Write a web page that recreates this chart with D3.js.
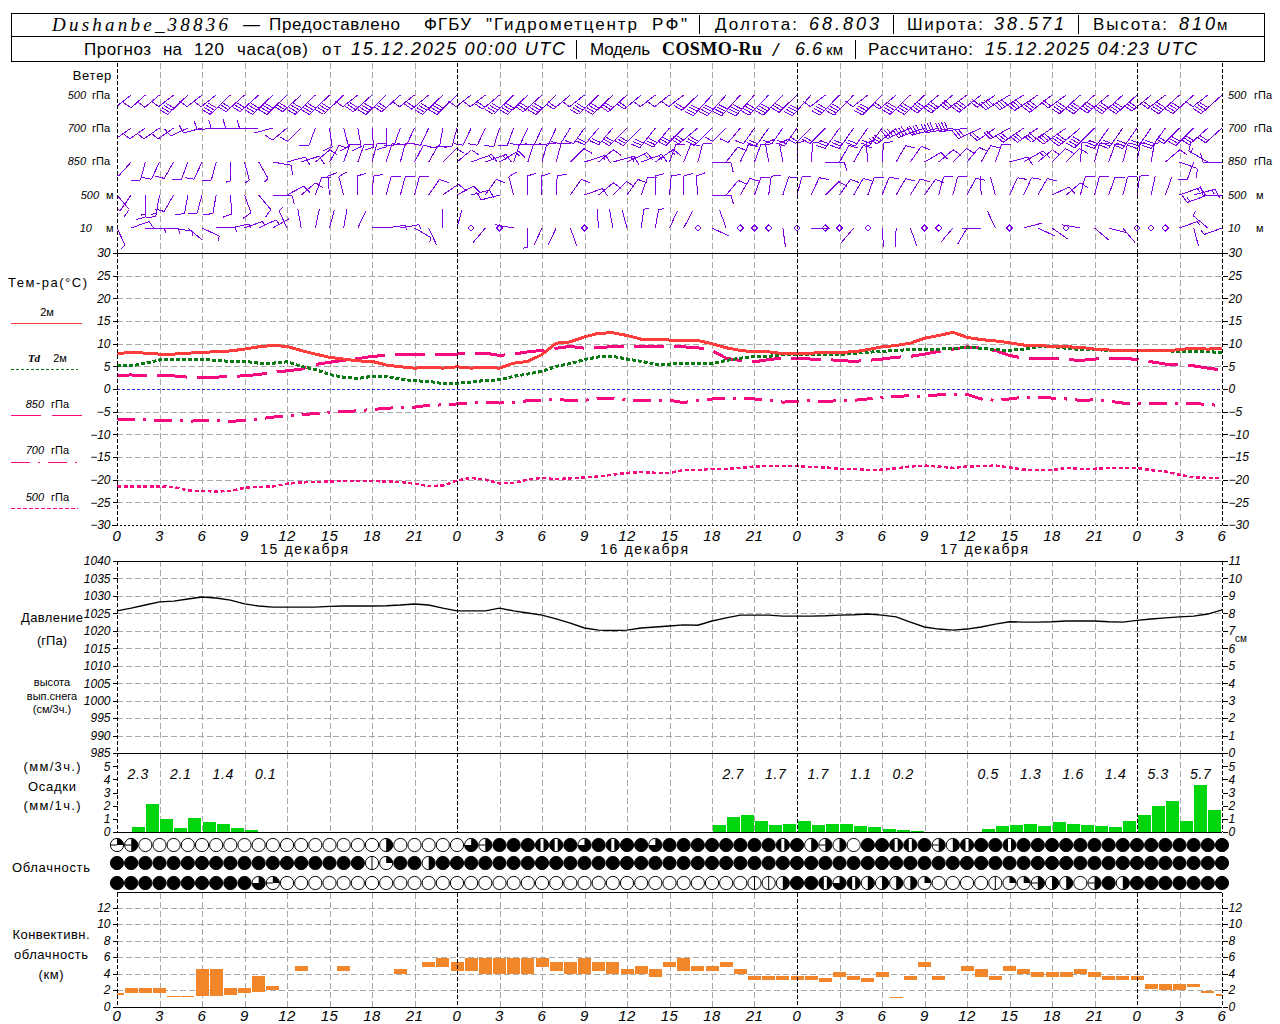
<!DOCTYPE html>
<html lang="ru">
<head>
  <meta charset="UTF-8" />
  <title>Dushanbe_38836</title>
  <script src="https://d3js.org/d3.v7.min.js"></script>
  <style>
    html, body { margin: 0; padding: 0; background: #fff; }
    svg { display: block; }
    text { font-family: "Liberation Sans", sans-serif; fill: #000; }
    .axis text { font-style: italic; font-size: 12px; }
    .axis line { stroke: #000; shape-rendering: crispEdges; }
    .axis path { display: none; }
  </style>
</head>
<body>
  <svg id="meteo" width="1280" height="1024"></svg>

  <script>
    const hours = d3.range(0, 79);
    const hourTicks = d3.range(0, 79, 3);
    const dayLines = [0, 24, 48, 72, 78];
    const dayLabels = [["15 декабря", 13.2], ["16 декабря", 37.2], ["17 декабря", 61.2]];

    // temperature, deg C, one value per hour
    const t2m = [7.8,8.1,7.9,7.7,7.7,7.9,8.1,8.2,8.4,8.8,
      9.3,9.6,9.4,8.5,7.7,7,6.6,6.2,6.1,5.3,
      4.9,4.6,4.8,4.6,4.9,4.6,4.8,4.6,5.7,6.1,
      7.6,10.1,10.4,11.5,12.3,12.4,11.8,11,11,10.8,
      10.7,10.7,10,9.1,8.5,8.2,8.2,7.8,7.9,7.9,
      8.1,8.1,8.2,8.7,9.3,9.6,10.1,11.2,11.8,12.5,
      11.4,10.9,10.6,10.2,9.7,9.6,9.4,9.3,9.2,8.8,
      8.6,8.5,8.5,8.4,8.4,8.7,9,8.8,9];
    const td2m = [5.1,5.1,5.7,6.4,6.5,6.6,6.6,6.3,6.1,6.1,
      5.7,5.7,6,5,4.3,3.2,2.6,2.3,2.8,2.8,
      2.2,1.8,1.7,1.2,1.25,1.5,1.9,2,2.8,3.3,
      3.9,5,5.6,6.5,7.1,7.2,6.6,6.1,5.5,5.5,
      5.7,5.7,5.6,6.3,6.8,7.2,7.2,7.6,7.7,7.7,
      7.6,7.6,7.9,8.1,8.3,8.5,8.7,8.8,8.8,8.9,
      9.2,9,8.7,8.5,8.8,9.3,9.3,9,8.7,8.7,
      8.5,8.5,8.5,8.5,8.5,8.2,8.2,8.2,8.1];
    const t850 = [3,3.1,2.9,2.9,2.9,2.6,2.6,2.6,2.8,2.9,
      3.2,3.7,4,4.4,5.4,5.9,6.3,6.7,7.2,7.4,
      7.6,7.6,7.6,7.6,7.7,7.9,7.9,7.4,7.7,8.2,
      8.5,9,9.4,9,9.2,9.3,9.3,9.3,9.3,9.3,
      9.3,9.1,8.5,6.8,6.3,6,6.5,6.8,6.8,6.6,
      6.5,6.3,6.1,6.3,6.6,7,7.2,7.7,8.3,8.8,
      9.3,9,8.5,7.4,6.8,6.8,6.8,6.5,6.3,6.6,
      6.8,6.8,6.5,6,5.5,5.4,5.1,4.6,4.2];
    const t700 = [-6.6,-6.8,-6.8,-6.9,-6.9,-7.1,-7,-6.9,-7.1,-7,
      -6.6,-6.2,-5.9,-5.7,-5.4,-5.1,-5,-4.8,-4.5,-4.3,
      -4,-4,-3.6,-3.5,-3.3,-3.1,-2.9,-3.1,-2.9,-2.6,
      -2.6,-2.2,-2.6,-2.5,-2.1,-2,-2.4,-2.5,-2.7,-2.5,
      -3,-2.5,-2.2,-2,-2,-2.2,-2.5,-2.9,-2.7,-2.6,
      -2.7,-2.6,-2.5,-2.2,-1.8,-1.6,-1.5,-1.6,-1.3,-1.1,
      -1.2,-2.2,-2.5,-2.2,-1.8,-1.8,-2,-2.2,-2.5,-2.4,
      -2.7,-3.1,-3.1,-3.1,-3.2,-3.2,-3.2,-3.4,-3.7];
    const t500 = [-21.5,-21.5,-21.5,-21.5,-21.6,-22.4,-22.5,-22.6,-22.5,-21.8,
      -21.6,-21.5,-20.9,-20.6,-20.5,-20.4,-20.3,-20.3,-20.3,-20.4,
      -20.5,-20.9,-21.4,-21.3,-20.2,-19.6,-20,-20.8,-20.7,-20,
      -19.6,-19.9,-19.7,-19.5,-19.3,-18.9,-18.5,-18.3,-18.5,-18.5,
      -17.9,-17.9,-17.6,-17.6,-17.4,-17.1,-17,-17,-17,-17.2,
      -17.3,-17.6,-17.6,-17.9,-17.8,-17.5,-17.1,-16.9,-17.1,-17.4,
      -17.1,-17,-16.9,-17.3,-17.8,-17.9,-17.9,-17.4,-17.6,-17.6,
      -17.4,-17.4,-17.4,-17.9,-18.2,-18.9,-19.5,-19.6,-19.6];

    // sea level pressure, hPa
    const pressure = [1025.7,1026.5,1027.4,1028.3,1028.5,1029.1,1029.7,1029.4,1028.8,1027.7,
      1027.1,1026.8,1026.8,1026.8,1026.8,1027,1027.1,1027.1,1027.1,1027.2,
      1027.4,1027.7,1027.4,1026.5,1025.7,1025.7,1025.7,1026.5,1025.7,1025.1,
      1024.5,1023.4,1022.2,1020.8,1020.2,1020.1,1020.2,1020.8,1021.1,1021.4,
      1021.7,1021.6,1022.8,1023.7,1024.5,1024.5,1024.5,1024.2,1024.2,1024.2,
      1024.3,1024.5,1024.6,1024.8,1024.5,1024,1022.5,1021.1,1020.5,1020.2,
      1020.5,1021.1,1021.9,1022.6,1022.5,1022.5,1022.6,1022.8,1022.8,1022.8,
      1022.6,1022.5,1023,1023.4,1023.7,1024,1024.2,1024.8,1026];

    // precipitation, mm per hour, one bar per hour interval
    const precip1h = [0,.4,2.1,1,.3,1.05,.75,.6,.3,.15,
      0,0,0,0,0,0,0,0,0,0,0,0,0,0,0,0,0,0,0,0,
      0,0,0,0,0,0,0,0,0,0,0,0,
      .55,1.15,1.3,.85,.55,.6,.85,.55,.6,.6,.45,.4,.25,.15,.1,0,0,0,0,
      .25,.45,.55,.6,.45,.75,.6,.55,.45,.4,.85,1.3,1.95,2.35,.85,3.55,1.65];
    const precip3hValues = ["2.3","2.1","1.4","0.1","2.7","1.7","1.7","1.1","0.2","0.5","1.3","1.6","1.4","5.3","5.7"];
    const precip3hHours = [1.5,4.5,7.5,10.5,43.5,46.5,49.5,52.5,55.5,61.5,64.5,67.5,70.5,73.5,76.5];

    // cloud symbols: 0 clear, 1 line, 2 quarter, 3 quarter+line, 4 half, 5 half+line, 6 three quarters, 7 stripe, 8 overcast
    const cloudHigh = [3,5,0,0,0,0,0,0,0,0,0,0,0,0,0,0,0,0,0,4,0,0,0,0,0,
      6,5,8,8,8,7,7,8,6,8,7,8,8,6,8,8,8,8,8,8,8,8,7,8,4,5,4,0,8,8,7,7,8,5,4,7,8,8,7,
      8,8,8,8,8,8,8,8,8,8,8,8,8,8,8];
    const cloudMid = [8,8,8,8,8,8,8,8,8,8,8,8,8,8,8,8,8,8,1,2,8,8,4,8,8,
      8,8,8,8,8,8,8,8,8,8,8,8,8,8,8,8,8,8,8,8,8,8,8,8,8,8,8,8,8,
      8,8,8,8,8,8,8,8,8,8,8,8,8,8,8,8,8,8,8,8,8,8,8,8,8];
    const cloudLow = [8,8,8,8,8,8,8,8,8,8,6,3,0,0,0,0,0,0,0,0,0,0,0,0,0,
      0,0,0,0,0,0,0,0,0,0,0,0,0,0,0,0,0,0,0,0,1,1,4,8,8,7,6,7,4,4,4,4,2,
      0,0,0,0,1,2,2,5,4,4,0,5,8,4,8,8,8,8,8,8,8];

    // convective cloud base and top, km
    const cuBase = [1.4,1.6,1.6,1.6,1.2,1.2,1.25,1.25,1.4,1.6,
      1.8,2,null,4.3,null,null,4.3,null,null,null,
      4,null,4.8,4.8,4.3,4.3,4,4,4,4,
      4.8,4.3,4,4,4.3,4,4,4,3.55,4.8,
      4.3,4.3,4.3,4.8,4,3.2,3.2,3.2,3.2,3.2,
      2.95,3.55,3.2,2.95,3.55,1.05,3.2,4.8,3.2,null,
      4.3,3.55,3.2,4.3,4,3.55,3.55,3.55,4,3.55,
      3.2,3.2,3.2,2.1,2,2,2.35,1.6,1.25];
    const cuTop = [1.6,2.2,2.2,2.2,1.3,1.3,4.55,4.55,2.2,2.2,
      3.7,2.45,null,4.9,null,null,4.9,null,null,null,
      4.55,null,5.4,5.85,5.4,5.85,5.85,5.85,5.85,5.85,
      5.85,5.4,5.4,5.85,5.4,5.4,4.55,4.9,4.55,5.4,
      5.85,4.9,4.9,5.4,4.55,3.7,3.7,3.7,3.7,3.7,
      3.45,4.15,3.7,3.45,4.15,1.15,3.7,5.4,3.7,null,
      4.9,4.55,3.7,4.9,4.55,4.15,4.15,4.15,4.55,4.15,
      3.7,3.7,3.7,2.7,2.7,2.7,2.7,1.85,1.5];

    // wind: direction the staff points to (deg), speed (m/s), 0 = calm, 1 = staff only
    const dir500hPa = [232,232,228,230,232,226,232,232,226,228,
      228,226,226,228,226,226,226,232,228,226,
      228,232,230,226,226,232,232,230,226,226,
      228,226,230,232,226,226,228,230,232,232,
      232,226,222,222,222,222,224,224,226,222,
      232,224,224,232,224,230,226,226,230,230,
      234,232,236,238,238,236,232,234,228,228,
      230,228,228,230,232,228,228,232,228];
    const spd500hPa = [5,5,5,5,5,20,5,5,20,15,
      15,20,20,15,20,20,20,5,15,20,
      15,5,10,20,20,5,5,10,20,20,
      15,20,10,5,20,20,15,10,5,5,
      5,10,20,20,20,20,20,20,15,20,
      5,20,20,5,20,10,20,20,20,20,
      15,20,10,20,20,20,20,10,20,20,
      20,20,20,15,10,20,20,5,20];
    const dir700hPa = [235,235,235,235,235,245,255,265,268,270,
      268,255,230,225,200,172,165,170,175,180,
      200,205,205,190,195,205,205,197,200,205,
      205,205,212,215,220,220,225,225,218,220,
      225,230,225,225,220,215,215,215,215,225,
      225,215,215,215,215,230,245,250,255,260,
      262,245,235,240,235,235,235,235,230,225,
      215,215,215,215,215,225,225,228,228];
    const spd700hPa = [5,5,5,5,5,5,5,5,5,5,
      5,1,5,5,5,5,5,5,5,5,
      5,5,5,5,5,5,5,5,5,5,
      5,5,5,5,10,10,15,15,15,15,
      15,15,15,5,5,5,10,5,10,10,
      10,15,15,10,10,15,15,20,20,20,
      20,15,10,10,15,15,15,20,20,20,
      15,15,15,15,15,10,15,15,10];
    const dir850hPa = [215,222,195,205,210,200,205,195,180,165,
      150,100,75,72,50,30,20,20,15,18,
      15,28,30,45,50,70,70,60,18,18,
      15,15,45,72,50,75,65,70,55,20,
      22,15,92,38,25,20,350,350,0,5,
      90,30,30,355,5,30,35,60,50,45,
      40,30,20,75,60,50,45,45,5,15,
      20,15,10,10,50,110,200,300,270];
    const spd850hPa = [5,2.5,5,5,5,5,5,5,2.5,2.5,
      2.5,5,5,5,5,5,5,5,5,5,
      5,5,5,5,5,7.5,7.5,7.5,5,5,
      5,5,5,7.5,5,7.5,7.5,7.5,7.5,5,
      5,5,5,5,5,5,5,5,5,5,
      5,5,5,5,5,5,5,5,5,5,
      5,5,5,5,7.5,5,5,5,5,5,
      2.5,2.5,2.5,2.5,5,5,5,7.5,5];
    const dir500m = [140,215,180,190,210,190,195,190,175,160,
      140,90,62,50,20,355,345,358,5,15,
      15,15,35,55,62,75,35,255,345,358,
      358,3,35,70,50,45,35,20,0,5,
      0,355,90,40,30,20,8,18,15,25,
      45,35,30,20,22,30,32,35,15,15,
      28,358,345,25,25,30,65,50,15,15,
      20,15,8,12,20,70,75,250,270];
    const spd500m = [5,5,7.5,7.5,5,5,5,5,5,5,
      5,5,5,5,5,5,5,5,5,5,
      5,5,5,5,5,5,5,5,5,5,
      5,5,5,5,5,5,5,5,5,5,
      5,5,5,5,5,5,5,5,5,5,
      5,5,5,5,5,5,5,5,5,5,
      5,1,1,5,5,5,5,5,5,5,
      5,5,5,1,1,7.5,7.5,7.5,5];
    const dir10m = [155,70,90,92,100,130,115,88,78,70,
      65,60,335,350,12,15,10,25,87,82,
      80,120,155,0,15,0,220,0,280,180,
      205,205,160,0,355,350,345,8,10,25,
      28,0,115,340,0,0,0,172,0,90,
      0,0,220,0,175,183,160,0,0,220,
      210,268,335,0,75,115,125,0,280,130,
      105,140,0,0,0,70,165,310,250];
    const spd10m = [2.5,5,2.5,2.5,2.5,1,2.5,2.5,2.5,2.5,
      2.5,1,2.5,1,1,1,1,1,1,2.5,
      2.5,2.5,1,1,1,0,1,0,1,2.5,
      1,1,1,0,1,1,1,2.5,2.5,1,
      1,0,1,1,0,0,0,1,0,1,
      0,0,1,0,1,1,1,0,0,1,
      1,1,1,0,1,1,1,0,1,1,
      1,1,0,0,0,2.5,1,2.5,2.5];

    const width = 1280, height = 1024;
    const svg = d3.select("#meteo").attr("width", width).attr("height", height);

    const x = d3.scaleLinear().domain([0, 78]).range([117, 1222]);
    const yWind = { "500hPa": 95, "700hPa": 128, "850hPa": 162, "500m": 195, "10m": 228 };
    const yTemp = d3.scaleLinear().domain([-30, 30]).range([525, 253]);
    const yPres = d3.scaleLinear().domain([985, 1040]).range([753, 561]);
    const ySnow = d3.scaleLinear().domain([0, 11]).range([753, 561]);
    const yRain = d3.scaleLinear().domain([0, 6]).range([832, 753]);
    const yConv = d3.scaleLinear().domain([0, 14]).range([1006.5, 891]);

    function label(px, py, str, opts = {}) {
      const t = svg.append("text")
        .attr("x", px)
        .attr("y", py)
        .attr("dominant-baseline", "central")
        .attr("text-anchor", opts.anchor || "start")
        .style("font-size", (opts.size || 12) + "px")
        .text(str);
      if (opts.italic) t.style("font-style", "italic");
      if (opts.bold) t.style("font-weight", "bold");
      if (opts.serif) t.style("font-family", "'Liberation Serif', serif");
      if (opts.spacing) t.style("letter-spacing", opts.spacing + "px");
      if (opts.to) t.attr("textLength", opts.to - px).attr("lengthAdjust", "spacing");
      return t;
    }

    function hline(py, x1, x2, stroke, dash, w) {
      svg.append("line")
        .attr("x1", x1).attr("x2", x2).attr("y1", py).attr("y2", py)
        .attr("stroke", stroke)
        .attr("stroke-width", w || 1)
        .attr("stroke-dasharray", dash || null)
        .attr("shape-rendering", "crispEdges");
    }

    // header boxes
    svg.append("rect").attr("x", 11.5).attr("y", 13.5).attr("width", 1253).attr("height", 48)
      .attr("fill", "none").attr("stroke", "#000").attr("shape-rendering", "crispEdges");
    hline(36.5, 11, 1265, "#000");

    function sep(px, y1, y2) {
      svg.append("line").attr("x1", px).attr("x2", px).attr("y1", y1).attr("y2", y2)
        .attr("stroke", "#000").attr("shape-rendering", "crispEdges");
    }

    label(52, 24, "Dushanbe_38836", { size: 19, italic: true, serif: true, to: 228 });
    label(243, 24, "—", { size: 17, to: 256 });
    label(269, 24, "Предоставлено", { size: 17, to: 400 });
    label(424, 24, "ФГБУ", { size: 17, to: 471 });
    label(486, 24, "\"Гидрометцентр", { size: 17, to: 637 });
    label(652, 24, "РФ\"", { size: 17, to: 687 });
    sep(699.5, 15, 34);
    label(715, 24, "Долгота:", { size: 17, to: 797 });
    label(809, 24, "68.803", { size: 18, italic: true, to: 879 });
    sep(893.5, 15, 34);
    label(907, 24, "Широта:", { size: 17, to: 983 });
    label(994, 24, "38.571", { size: 18, italic: true, to: 1064 });
    sep(1078.5, 15, 34);
    label(1093, 24, "Высота:", { size: 17, to: 1167 });
    label(1179, 24, "810", { size: 18, italic: true, to: 1215 });
    label(1217, 24, "м", { size: 15, to: 1228 });

    label(84, 49, "Прогноз", { size: 17, to: 151 });
    label(163, 49, "на", { size: 17, to: 182 });
    label(194, 49, "120", { size: 17, to: 224 });
    label(237, 49, "часа(ов)", { size: 17, to: 308 });
    label(322, 49, "от", { size: 17, to: 341 });
    label(351, 49, "15.12.2025 00:00 UTC", { size: 18, italic: true, to: 565 });
    sep(576.5, 40, 59);
    label(590, 49, "Модель", { size: 17, to: 650 });
    label(662, 49, "COSMO-Ru", { size: 18, bold: true, serif: true, to: 762 });
    label(773, 49, "/", { size: 19, italic: true, to: 783 });
    label(795, 49, "6.6", { size: 18, italic: true, to: 822 });
    label(826, 49, "км", { size: 15, to: 843 });
    sep(855.5, 40, 59);
    label(868, 49, "Рассчитано:", { size: 17, to: 973 });
    label(985, 49, "15.12.2025 04:23 UTC", { size: 18, italic: true, to: 1197 });

    // grid
    const panels = [[63, 253], [253, 525], [561, 753], [753, 832], [893, 1007]];
    panels.forEach(([y1, y2]) => {
      svg.append("g").selectAll("line")
        .data(hourTicks.filter(h => !dayLines.includes(h)))
        .join("line")
        .attr("x1", d => Math.round(x(d)) + 0.5).attr("x2", d => Math.round(x(d)) + 0.5)
        .attr("y1", y1).attr("y2", y2)
        .attr("stroke", "#a8a8a8")
        .attr("stroke-dasharray", "6 3")
        .attr("shape-rendering", "crispEdges");
    });
    d3.range(-25, 30, 5).forEach(v => {
      if (v !== 0) hline(Math.round(yTemp(v)) + 0.5, 117, 1222, "#a8a8a8", "6 3");
    });
    d3.range(990, 1040, 5).forEach(v => hline(Math.round(yPres(v)) + 0.5, 117, 1222, "#a8a8a8", "6 3"));
    d3.range(2, 14, 2).forEach(v => hline(Math.round(yConv(v)) + 0.5, 117, 1222, "#a8a8a8", "6 3"));
    hline(389.5, 117, 1222, "#2030e0", "3 2");

    // convective cloud
    svg.append("g").selectAll("rect")
      .data(hours.filter(h => cuBase[h] !== null))
      .join("rect")
      .attr("x", d => Math.max(Math.round(x(d) - 6.5), 117))
      .attr("width", d => Math.min(Math.round(x(d) - 6.5) + 13, 1222) - Math.max(Math.round(x(d) - 6.5), 117))
      .attr("y", d => yConv(cuTop[d]))
      .attr("height", d => yConv(cuBase[d]) - yConv(cuTop[d]))
      .attr("fill", "#f2862b")
      .attr("shape-rendering", "crispEdges");

    // hourly precipitation
    svg.append("g").selectAll("rect")
      .data(precip1h.map((v, i) => [i, v]).filter(d => d[1] > 0))
      .join("rect")
      .attr("x", d => x(d[0]) + 0.5)
      .attr("width", 13)
      .attr("y", d => yRain(d[1]))
      .attr("height", d => yRain(0) - yRain(d[1]))
      .attr("fill", "#00d60e")
      .attr("shape-rendering", "crispEdges");

    precip3hValues.forEach((v, i) => {
      label(x(precip3hHours[i]), 774, v, { anchor: "middle", size: 14, italic: true, spacing: 0.6 });
    });

    // temperature lines
    const tempLine = d3.line().x((d, i) => x(i)).y(d => yTemp(d));
    [
      [t850, "#f50a80", "30 10", 3],
      [t700, "#f50a80", "18 8 3 8", 3],
      [t500, "#f50a80", "4 2.5", 2.5],
      [td2m, "#0a7a14", "4 2", 3],
      [t2m, "#ff3c3c", null, 3]
    ].forEach(([data, color, dash, w]) => {
      svg.append("path").attr("d", tempLine(data))
        .attr("fill", "none")
        .attr("stroke", color)
        .attr("stroke-width", w)
        .attr("stroke-dasharray", dash)
        .attr("shape-rendering", "crispEdges");
    });

    // pressure
    svg.append("path")
      .attr("d", d3.line().x((d, i) => x(i)).y(d => yPres(d))(pressure))
      .attr("fill", "none").attr("stroke", "#000").attr("stroke-width", 1.4);

    // wind barbs, staff grows with the number of barbs
    svg.append("clipPath").attr("id", "windClip")
      .append("rect").attr("x", 117).attr("y", 64).attr("width", 1105).attr("height", 189);
    const windG = svg.append("g").attr("clip-path", "url(#windClip)")
      .attr("stroke", "#8000e6").attr("fill", "none").attr("shape-rendering", "crispEdges");
    const staffBase = 19, fullBarb = 9.5, halfBarb = 5, barbStep = 3, barbTurn = 75;
    const polar = (deg, len) => [Math.sin(deg * Math.PI / 180) * len, -Math.cos(deg * Math.PI / 180) * len];

    function windRow(rowY, dirs, speeds) {
      hours.forEach(h => {
        const px = x(h);
        if (speeds[h] === 0) {
          windG.append("path")
            .attr("transform", `translate(${px},${rowY})`)
            .attr("d", d3.symbol(d3.symbolDiamond2, 24)());
          return;
        }
        const count = Math.floor(speeds[h] / 5) + (speeds[h] % 5 >= 2.5 ? 1 : 0);
        const staffLen = staffBase + barbStep * Math.max(count - 1, 0);
        const [dx, dy] = polar(dirs[h], staffLen);
        let d = `M${px},${rowY}L${px + dx},${rowY + dy}`;
        const [ux, uy] = polar(dirs[h], 1);
        let left = speeds[h], pos = staffLen;
        while (left >= 2.5) {
          const len = left >= 5 ? fullBarb : halfBarb;
          const [bx, by] = polar(dirs[h] + barbTurn, len);
          const sx = px + ux * pos, sy = rowY + uy * pos;
          d += `M${sx},${sy}L${sx + bx},${sy + by}`;
          left -= left >= 5 ? 5 : 2.5;
          pos -= barbStep;
        }
        windG.append("path").attr("d", d);
      });
    }
    windRow(yWind["500hPa"], dir500hPa, spd500hPa);
    windRow(yWind["700hPa"], dir700hPa, spd700hPa);
    windRow(yWind["850hPa"], dir850hPa, spd850hPa);
    windRow(yWind["500m"], dir500m, spd500m);
    windRow(yWind["10m"], dir10m, spd10m);

    // cloud symbols
    const arc = d3.arc().innerRadius(0).outerRadius(6.6);
    const cloudRows = [[cloudHigh, 845], [cloudMid, 863], [cloudLow, 883]];
    cloudRows.forEach(([row, cy]) => {
      row.forEach((code, h) => {
        const g = svg.append("g").attr("transform", `translate(${x(h)},${cy})`);
        g.append("circle").attr("r", 6.6)
          .attr("fill", code === 8 || code === 7 ? "#000" : "#fff")
          .attr("stroke", "#000");
        if (code === 2 || code === 3) {
          g.append("path").attr("d", arc({ startAngle: 0, endAngle: Math.PI / 2 }));
        }
        if (code === 4 || code === 5) {
          g.append("path").attr("d", arc({ startAngle: 0, endAngle: Math.PI }));
        }
        if (code === 6) {
          g.append("path").attr("d", arc({ startAngle: 0, endAngle: Math.PI * 1.5 }));
        }
        if (code === 1) {
          g.append("line").attr("y1", -6.6).attr("y2", 6.6).attr("stroke", "#000");
        }
        if (code === 3 || code === 5) {
          g.append("line").attr("x1", -6.6).attr("x2", 0).attr("stroke", "#000");
        }
        if (code === 7) {
          g.append("rect").attr("x", -1.5).attr("y", -6).attr("width", 3).attr("height", 12).attr("fill", "#fff");
        }
      });
    });

    // day lines and panel frames
    panels.forEach(([y1, y2]) => {
      svg.append("g").selectAll("line")
        .data(dayLines)
        .join("line")
        .attr("x1", d => Math.round(x(d)) + 0.5).attr("x2", d => Math.round(x(d)) + 0.5)
        .attr("y1", y1).attr("y2", y2)
        .attr("stroke", "#000")
        .attr("stroke-dasharray", "4 2")
        .attr("shape-rendering", "crispEdges");
    });
    hline(253.5, 117, 1222, "#000");
    hline(525.5, 112, 1222, "#000", "2 2");
    hline(561.5, 117, 1222, "#000");
    hline(753.5, 117, 1222, "#000");
    hline(832.5, 117, 1222, "#000");
    hline(892.5, 117, 1222, "#000");
    hline(1007.5, 117, 1222, "#000");

    // axes
    const plain = d3.format("d");
    function axisPair(scale, values) {
      svg.append("g").attr("class", "axis").attr("transform", "translate(117.5,0)")
        .call(d3.axisLeft(scale).tickValues(values).tickSize(5).tickPadding(2).tickFormat(plain));
      svg.append("g").attr("class", "axis").attr("transform", "translate(1222.5,0)")
        .call(d3.axisRight(scale).tickValues(values).tickSize(5).tickPadding(1).tickFormat(plain));
    }
    axisPair(yTemp, d3.range(-30, 31, 5));
    svg.append("g").attr("class", "axis").attr("transform", "translate(117.5,0)")
      .call(d3.axisLeft(yPres).tickValues(d3.range(985, 1041, 5)).tickSize(5).tickPadding(2).tickFormat(plain));
    svg.append("g").attr("class", "axis").attr("transform", "translate(1222.5,0)")
      .call(d3.axisRight(ySnow).tickValues(d3.range(0, 12)).tickSize(5).tickPadding(1).tickFormat(plain));
    axisPair(yRain, d3.range(0, 6));
    axisPair(yConv, d3.range(0, 13, 2));

    [535, 1015].forEach(py => {
      svg.append("g").selectAll("text")
        .data(hourTicks)
        .join("text")
        .attr("x", d => x(d))
        .attr("y", py)
        .attr("text-anchor", "middle")
        .attr("dominant-baseline", "central")
        .style("font-style", "italic")
        .style("font-size", "15px")
        .style("letter-spacing", "0.5px")
        .text(d => d % 24);
    });
    dayLabels.forEach(([name, h]) => {
      label(x(h) - 44, 549, name, { size: 14, to: x(h) + 44 });
    });

    // left captions
    label(112, 75, "Ветер", { anchor: "end", size: 13, spacing: 0.7 });
    [["500", "гПа", 95], ["700", "гПа", 128], ["850", "гПа", 161]].forEach(([a, b, py]) => {
      label(86, py, a, { anchor: "end", size: 11, italic: true });
      label(92, py, b, { size: 11 });
      label(1228, py, a, { size: 11, italic: true });
      label(1254, py, b, { size: 11 });
    });
    label(99, 195, "500", { anchor: "end", size: 11, italic: true });
    label(106, 195, "м", { size: 11 });
    label(92, 228, "10", { anchor: "end", size: 11, italic: true });
    label(106, 228, "м", { size: 11 });
    label(1228, 195, "500", { size: 11, italic: true });
    label(1256, 195, "м", { size: 11 });
    label(1228, 228, "10", { size: 11, italic: true });
    label(1256, 228, "м", { size: 11 });

    label(8, 282, "Тем-ра(°C)", { size: 13, to: 87 });
    label(47, 312, "2м", { anchor: "middle", size: 11 });
    hline(323.5, 11, 82, "#ff3c3c");
    label(34, 358, "Td", { anchor: "middle", size: 11, italic: true, bold: true, serif: true });
    label(60, 358, "2м", { anchor: "middle", size: 11 });
    hline(369.5, 11, 78, "#0a7a14", "3 2");
    [["850", 404], ["700", 450], ["500", 497]].forEach(([a, py]) => {
      label(44, py, a, { anchor: "end", size: 11, italic: true });
      label(51, py, "гПа", { size: 11 });
    });
    hline(415.5, 11, 41, "#f50a80");
    hline(415.5, 52, 82, "#f50a80");
    hline(462.5, 11, 78, "#f50a80", "19 8 2 8 19 8 2 200");
    hline(508.5, 11, 78, "#f50a80", "4 2");

    [["Давление", 52, 617, 62], ["(гПа)", 52, 640, 30], ["Облачность", 51, 867, 78], ["Осадки", 52, 786, 48],
     ["(мм/3ч.)", 52, 766, 57], ["(мм/1ч.)", 52, 805, 57], ["Конвективн.", 51, 934, 77], ["облачность", 51, 954, 74], ["(км)", 51, 974, 25]]
      .forEach(([s, cx, py, w]) => label(cx - w / 2, py, s, { size: 13, to: cx + w / 2 }));
    [["высота", 682], ["вып.снега", 696], ["(см/3ч.)", 709]]
      .forEach(([s, py]) => label(52, py, s, { anchor: "middle", size: 11 }));
    label(1235, 638, "см", { size: 10 });
  </script>
</body>
</html>
